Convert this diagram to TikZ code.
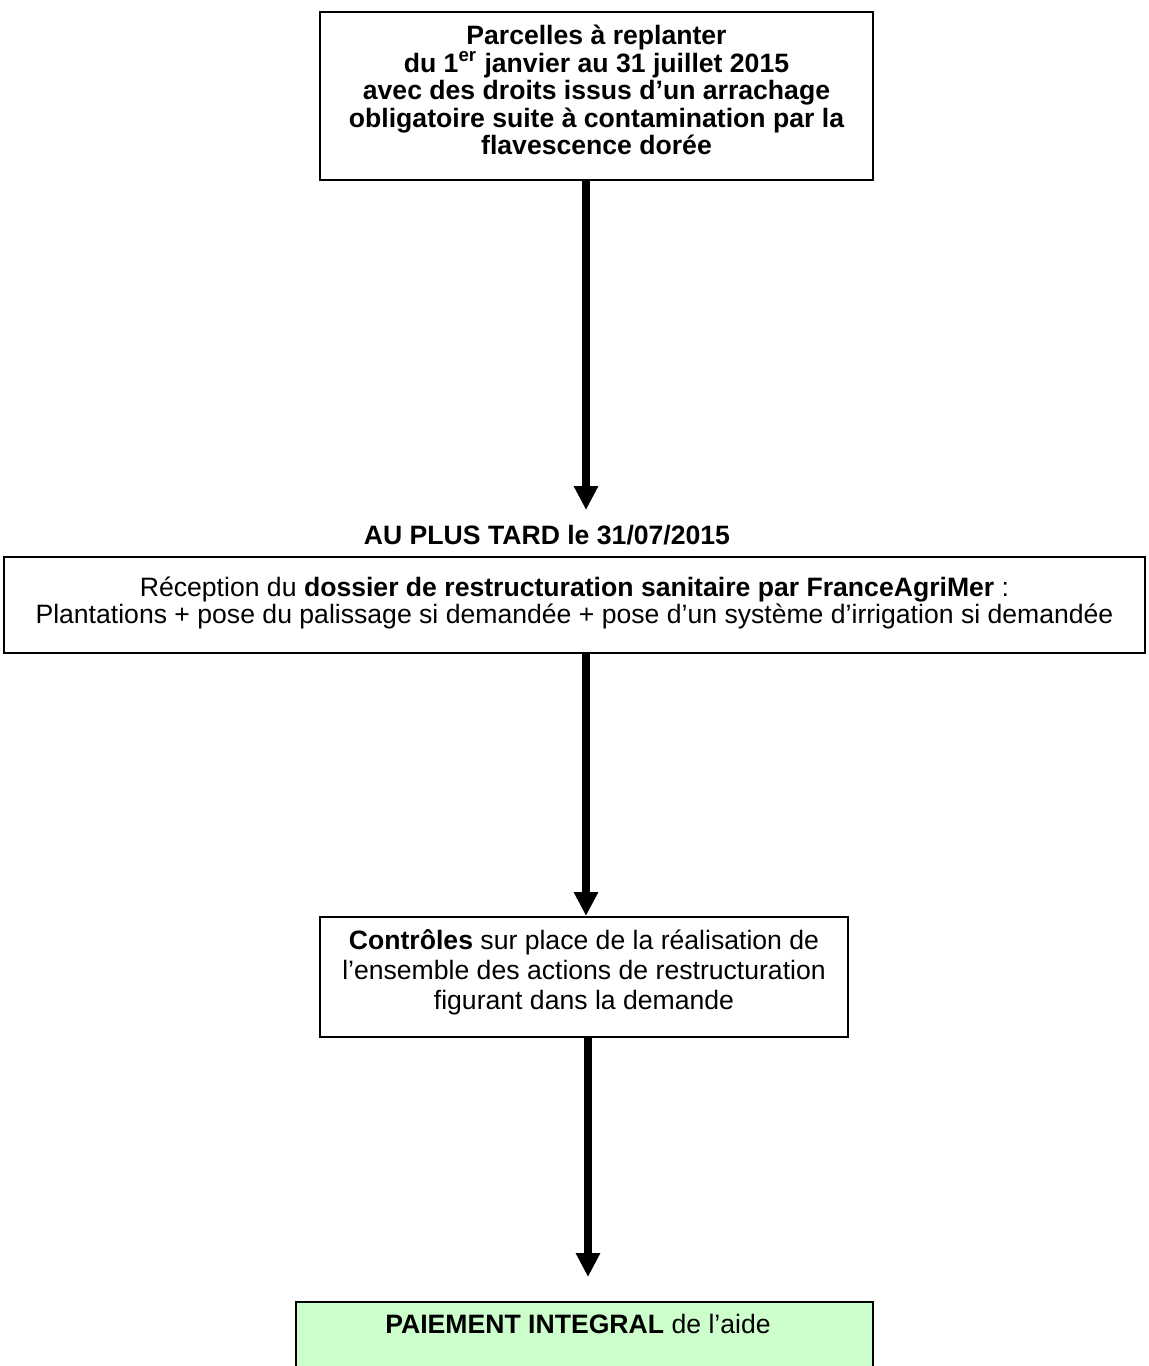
\documentclass[tikz,border=0pt]{standalone}
\usepackage{fontspec}
\setmainfont{Liberation Sans}
\usetikzlibrary{arrows.meta}
\definecolor{paygreen}{HTML}{CCFFCC}
\begin{document}
\begin{tikzpicture}[x=0.5pt,y=-0.5pt,
  box/.style={draw=black, line width=1pt, rectangle, inner sep=0pt},
  txt/.style={align=center, inner sep=0pt, font=\fontsize{13.3pt}{13.5pt}\selectfont},
  txtwide/.style={align=center, inner sep=0pt, font=\fontsize{13.3pt}{15pt}\selectfont},
  arr/.style={line width=4pt, -{Triangle[width=11.5pt,length=12pt]}},
]
\useasboundingbox (0,0) rectangle (1149,1366);
\clip (0,0) rectangle (1149,1366);
% box 1
\node[box, minimum width=276.5pt, minimum height=84pt] (b1) at (596.5,96) {};
\node[txt, font=\fontsize{13.3pt}{13.8pt}\selectfont\bfseries] (t1) at (596.5,90)
  {Parcelles à replanter\\ du 1\textsuperscript{er} janvier au 31 juillet 2015\\ avec des droits issus d’un arrachage\\ obligatoire suite à contamination par la\\ flavescence dorée};
% label
\node[txt, font=\fontsize{13.3pt}{13.5pt}\selectfont\bfseries] (lab) at (547,535) {AU PLUS TARD le 31/07/2015};
% box 2
\node[box, minimum width=570.5pt, minimum height=48pt] (b2) at (574.5,605) {};
\node[txt, anchor=north] (t2) at (574.5,577)
  {Réception du \textbf{dossier de restructuration sanitaire par FranceAgriMer} :\\ Plantations + pose du palissage si demandée + pose d’un système d’irrigation si demandée};
% box 3
\node[box, minimum width=264pt, minimum height=60pt] (b3) at (584,977) {};
\node[txtwide] (t3) at (584,972)
  {\textbf{Contrôles} sur place de la réalisation de\\ l’ensemble des actions de restructuration\\ figurant dans la demande};
% box 4
\node[box, fill=paygreen, minimum width=288.5pt, minimum height=49pt] (b4) at (584.5,1351) {};
\node[txt, anchor=north] (t4) at (578,1314) {\textbf{PAIEMENT INTEGRAL} de l’aide};
% arrows
\coordinate (p1) at (586,510);
\coordinate (p2) at (586,0);
\coordinate (p3) at (588,1277);
\draw[arr] (b1.south -| p1) -- (p1);
\draw[arr] (b2.south -| p2) -- (b3.north -| p2);
\draw[arr] (b3.south -| p3) -- (p3);
\end{tikzpicture}
\end{document}
